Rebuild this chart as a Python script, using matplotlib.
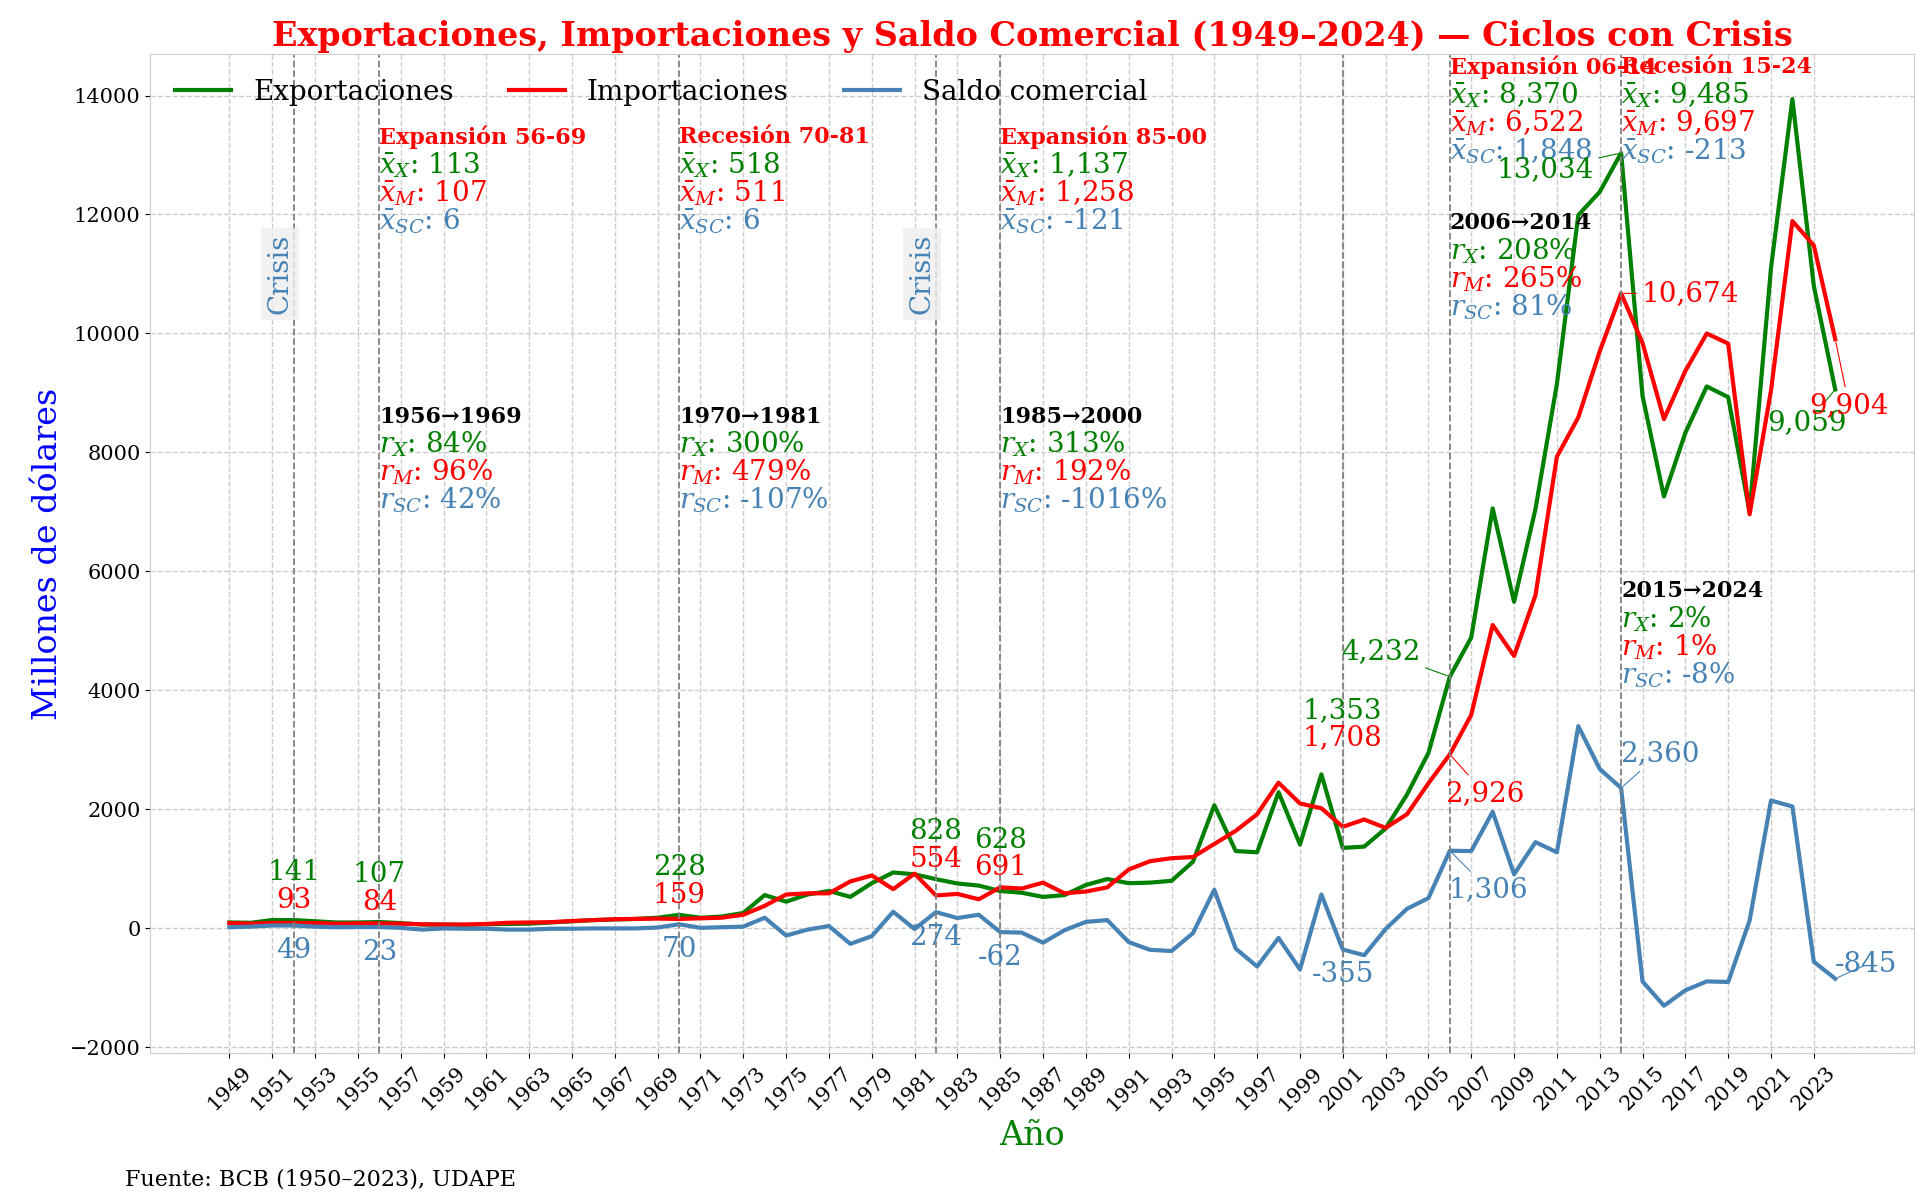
import matplotlib.pyplot as plt
import numpy as np

plt.rcParams['font.family'] = 'DejaVu Serif'
plt.rcParams['mathtext.fontset'] = 'dejavuserif'

years = list(range(1949, 2025))
exports = [100, 95, 141, 141, 120, 100, 100, 107, 90, 65, 65, 60, 70, 75, 80, 100,
           120, 140, 150, 160, 180, 228, 180, 200, 260, 560, 450, 570, 630, 530,
           760, 940, 910, 828, 755, 720, 628, 600, 530, 560, 730, 830, 760, 770,
           800, 1120, 2070, 1300, 1280, 2290, 1410, 2590, 1353, 1375, 1680, 2250,
           2950, 4232, 4890, 7060, 5490, 7050, 9150, 11990, 12380, 13034, 8950,
           7260, 8330, 9110, 8930, 7000, 11100, 13940, 10800, 9059]
imports = [90, 80, 93, 93, 90, 80, 84, 84, 80, 70, 65, 65, 75, 95, 100, 105,
           125, 140, 155, 160, 165, 159, 170, 180, 230, 380, 570, 590, 590, 790,
           890, 660, 920, 554, 580, 490, 691, 670, 770, 590, 620, 690, 990, 1130,
           1180, 1200, 1420, 1640, 1920, 2450, 2100, 2020, 1708, 1830, 1690, 1920,
           2440, 2926, 3590, 5100, 4580, 5600, 7930, 8590, 9700, 10674, 9840,
           8560, 9370, 10000, 9830, 6960, 9040, 11890, 11480, 9904]
saldo = [20, 30, 49, 49, 30, 20, 23, 23, 10, -20, 0, -5, -5, -20, -20, -5,
         -5, 0, 0, 0, 15, 70, 10, 20, 30, 180, -120, -20, 40, -260,
         -130, 280, -10, 274, 175, 230, -62, -70, -240, -30, 110, 140, -230, -360,
         -380, -80, 650, -340, -640, -160, -690, 570, -355, -450, -10, 330,
         510, 1306, 1300, 1960, 910, 1450, 1280, 3400, 2680, 2360, -890,
         -1300, -1040, -890, -900, 130, 2150, 2050, -560, -845]

crisis_years = [1952, 1982]
cut_years = [1952, 1956, 1970, 1982, 1985, 2001, 2006, 2014]

periods = [("Expansión 56-69", 1956, 13300, "113", "107", "6"),
           ("Recesión 70-81", 1970, 13300, "518", "511", "6"),
           ("Expansión 85-00", 1985, 13300, "1,137", "1,258", "-121"),
           ("Expansión 06-14", 2006, 14480, "8,370", "6,522", "1,848"),
           ("Recesión 15-24", 2014, 14480, "9,485", "9,697", "-213")]
growth = [("1956→1969", 1956, 8600, "84%", "96%", "42%"),
          ("1970→1981", 1970, 8600, "300%", "479%", "-107%"),
          ("1985→2000", 1985, 8600, "313%", "192%", "-1016%"),
          ("2006→2014", 2006, 11850, "208%", "265%", "81%"),
          ("2015→2024", 2014, 5670, "2%", "1%", "-8%")]

GREEN, RED, BLUE = 'green', 'red', 'steelblue'

fig, ax = plt.subplots(figsize=(19.26, 11.97), dpi=100)
ax.plot(years, exports, color=GREEN, lw=3, label='Exportaciones')
ax.plot(years, imports, color=RED, lw=3, label='Importaciones')
ax.plot(years, saldo, color=BLUE, lw=3, label='Saldo comercial')

for y in cut_years:
    ax.axvline(y, color='gray', ls='--', lw=1.3)
for y in crisis_years:
    ax.text(y - 0.65, 11000, 'Crisis', rotation=90, color=BLUE, fontsize=20,
            ha='center', va='center',
            bbox=dict(facecolor='#eeeeee', edgecolor='none', alpha=0.8))

step = 470
for name, x0, y0, mx, mm, ms in periods:
    ax.text(x0, y0, name, color=RED, fontsize=16, fontweight='bold', va='center')
    ax.text(x0, y0 - step, r'$\bar{x}_X$: ' + mx, color=GREEN, fontsize=20, va='center')
    ax.text(x0, y0 - 2 * step, r'$\bar{x}_M$: ' + mm, color=RED, fontsize=20, va='center')
    ax.text(x0, y0 - 3 * step, r'$\bar{x}_{SC}$: ' + ms, color=BLUE, fontsize=20, va='center')
for name, x0, y0, rx, rm, rs in growth:
    ax.text(x0, y0, name, color='black', fontsize=16, fontweight='bold', va='center')
    ax.text(x0, y0 - step, r'$r_X$: ' + rx, color=GREEN, fontsize=20, va='center')
    ax.text(x0, y0 - 2 * step, r'$r_M$: ' + rm, color=RED, fontsize=20, va='center')
    ax.text(x0, y0 - 3 * step, r'$r_{SC}$: ' + rs, color=BLUE, fontsize=20, va='center')

def val(series, yr):
    return series[years.index(yr)]

# stacked labels at early cut years
for yr in [1952, 1956, 1970, 1982, 1985, 2001]:
    x, m, s = val(exports, yr), val(imports, yr), val(saldo, yr)
    top = max(x, m)
    lift = 50 if yr == 2001 else 0
    ax.annotate(f'{x:,}', (yr, top), xytext=(0, 34 + lift), textcoords='offset points',
                ha='center', va='center', color=GREEN, fontsize=20)
    ax.annotate(f'{m:,}', (yr, top), xytext=(0, 14 + lift), textcoords='offset points',
                ha='center', va='center', color=RED, fontsize=20)
    ax.annotate(f'{s:,}', (yr, s), xytext=(0, -18), textcoords='offset points',
                ha='center', va='center', color=BLUE, fontsize=20)

arrow = dict(arrowstyle='-', lw=0.8)
late = [(2006, exports, GREEN, (-50, 18)), (2006, imports, RED, (25, -28)),
        (2006, saldo, BLUE, (28, -28)),
        (2014, exports, GREEN, (-55, -12)), (2014, imports, RED, (50, 0)),
        (2014, saldo, BLUE, (28, 25)),
        (2024, exports, GREEN, (-20, -24)), (2024, imports, RED, (10, -48)),
        (2024, saldo, BLUE, (22, 10))]
for yr, ser, col, off in late:
    v = val(ser, yr)
    ax.annotate(f'{v:,}', (yr, v), xytext=off, textcoords='offset points',
                ha='center', va='center', color=col, fontsize=20,
                arrowprops=dict(color=col, **arrow))

ax.set_xticks(years[::2])
ax.set_xticklabels(years[::2], rotation=45, fontsize=15)
ax.tick_params(axis='y', labelsize=15)
ax.set_xlim(1945.3, 2027.7)
ax.set_ylim(-2100, 14700)
ax.grid(True, ls='--', color='#cccccc', lw=1)
for sp in ax.spines.values():
    sp.set_color('#cccccc')
ax.set_xlabel('Año', color=GREEN, fontsize=24)
ax.set_ylabel('Millones de dólares', color='blue', fontsize=24)
ax.set_title('Exportaciones, Importaciones y Saldo Comercial (1949–2024) — Ciclos con Crisis',
             color=RED, fontsize=24, fontweight='bold', pad=6)
ax.legend(loc='upper left', ncol=3, frameon=False, fontsize=20, bbox_to_anchor=(0.0, 1.0))
fig.text(0.065, 0.01, 'Fuente: BCB (1950–2023), UDAPE', fontsize=16)
plt.subplots_adjust(left=0.078, right=0.994, top=0.955, bottom=0.12)
plt.savefig('out.png')
